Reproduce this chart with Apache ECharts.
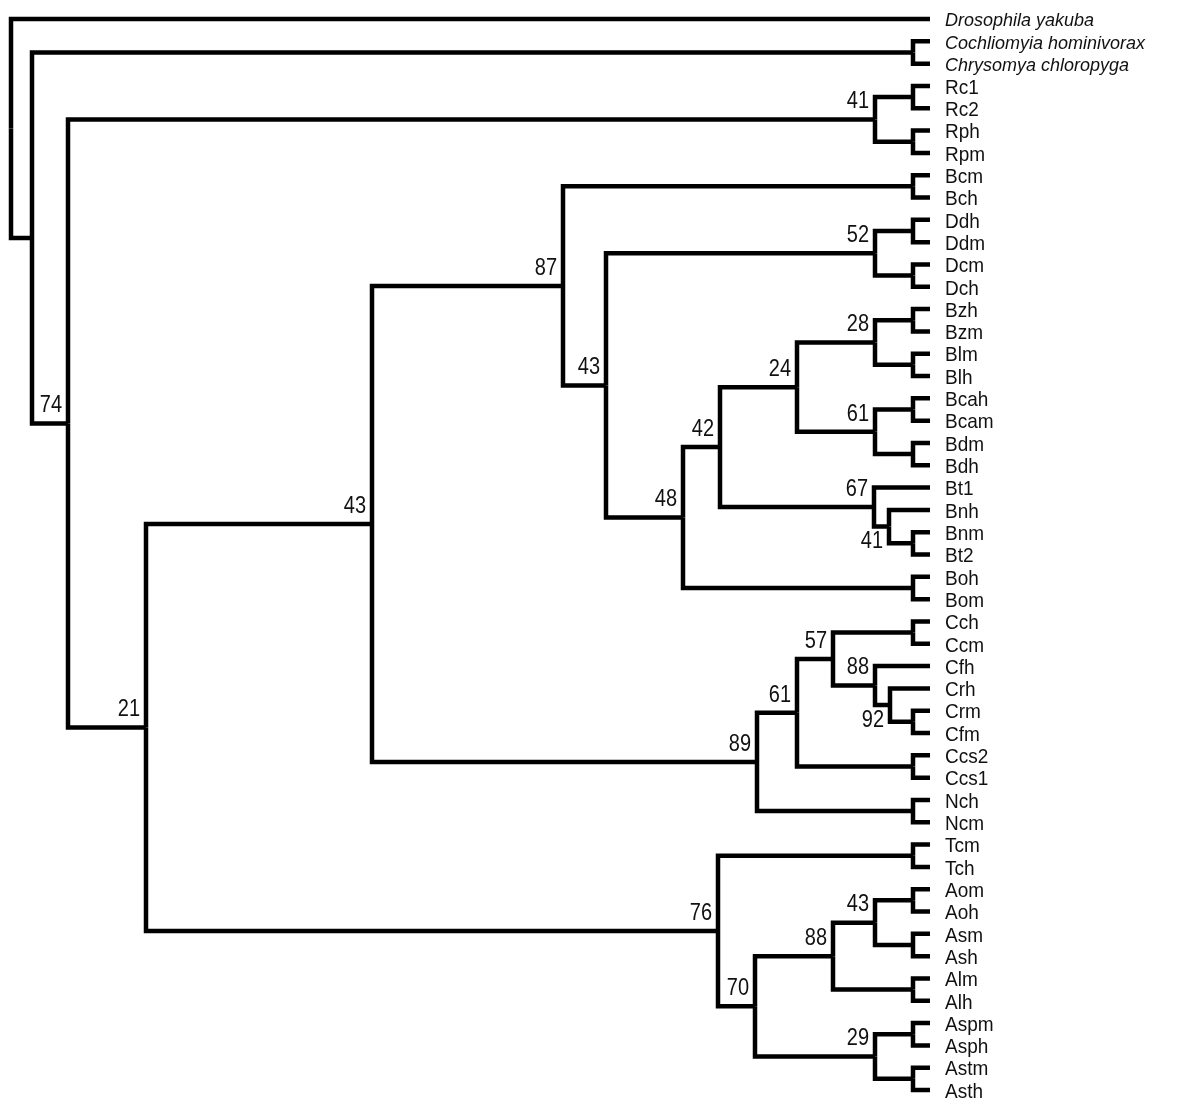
<!DOCTYPE html>
<html lang="en">
<head>
<meta charset="UTF-8">
<title>Tree</title>
<style>html,body{margin:0;padding:0;background:#fff;}</style>
</head>
<body>
<div id="main" style="width:1178px;height:1103px;"></div>
<script src="https://cdn.jsdelivr.net/npm/echarts@6/dist/echarts.min.js"></script>
<script>
// leaves, top to bottom
var leafNames = [
    'Drosophila yakuba', 'Cochliomyia hominivorax', 'Chrysomya chloropyga',
    'Rc1', 'Rc2', 'Rph', 'Rpm', 'Bcm', 'Bch', 'Ddh', 'Ddm', 'Dcm', 'Dch',
    'Bzh', 'Bzm', 'Blm', 'Blh', 'Bcah', 'Bcam', 'Bdm', 'Bdh',
    'Bt1', 'Bnh', 'Bnm', 'Bt2', 'Boh', 'Bom',
    'Cch', 'Ccm', 'Cfh', 'Crh', 'Crm', 'Cfm', 'Ccs2', 'Ccs1', 'Nch', 'Ncm',
    'Tcm', 'Tch', 'Aom', 'Aoh', 'Asm', 'Ash', 'Alm', 'Alh',
    'Aspm', 'Asph', 'Astm', 'Asth'
];
var italicNames = ['Drosophila yakuba', 'Cochliomyia hominivorax', 'Chrysomya chloropyga'];
var tipDepth = 930;

// clade id, depth, children, bootstrap value
var clades = [
    ['pCC', 913, ['Cochliomyia hominivorax', 'Chrysomya chloropyga'], ''],
    ['pRc', 913, ['Rc1', 'Rc2'], ''],
    ['pRp', 913, ['Rph', 'Rpm'], ''],
    ['pBc', 913, ['Bcm', 'Bch'], ''],
    ['pDd', 913, ['Ddh', 'Ddm'], ''],
    ['pDc', 913, ['Dcm', 'Dch'], ''],
    ['pBz', 913, ['Bzh', 'Bzm'], ''],
    ['pBl', 913, ['Blm', 'Blh'], ''],
    ['pBca', 913, ['Bcah', 'Bcam'], ''],
    ['pBd', 913, ['Bdm', 'Bdh'], ''],
    ['pBn', 913, ['Bnm', 'Bt2'], ''],
    ['pBo', 913, ['Boh', 'Bom'], ''],
    ['pCc', 913, ['Cch', 'Ccm'], ''],
    ['pCr', 913, ['Crm', 'Cfm'], ''],
    ['pCcs', 913, ['Ccs2', 'Ccs1'], ''],
    ['pN', 913, ['Nch', 'Ncm'], ''],
    ['pT', 913, ['Tcm', 'Tch'], ''],
    ['pAo', 913, ['Aom', 'Aoh'], ''],
    ['pAs', 913, ['Asm', 'Ash'], ''],
    ['pAl', 913, ['Alm', 'Alh'], ''],
    ['pAsp', 913, ['Aspm', 'Asph'], ''],
    ['pAst', 913, ['Astm', 'Asth'], ''],
    ['R', 875, ['pRc', 'pRp'], '41'],
    ['Dd', 875, ['pDd', 'pDc'], '52'],
    ['Bzl', 875, ['pBz', 'pBl'], '28'],
    ['Bcd', 875, ['pBca', 'pBd'], '61'],
    ['K', 797, ['Bzl', 'Bcd'], '24'],
    ['Bn', 889, ['Bnh', 'pBn'], '41'],
    ['Bt', 874, ['Bt1', 'Bn'], '67'],
    ['J', 720, ['K', 'Bt'], '42'],
    ['I', 683, ['J', 'pBo'], '48'],
    ['H', 606, ['Dd', 'I'], '43'],
    ['F', 563, ['pBc', 'H'], '87'],
    ['Cr', 890, ['Crh', 'pCr'], '92'],
    ['Cf', 875, ['Cfh', 'Cr'], '88'],
    ['Cc', 833, ['pCc', 'Cf'], '57'],
    ['Q', 797, ['Cc', 'pCcs'], '61'],
    ['G', 757, ['Q', 'pN'], '89'],
    ['D', 372, ['F', 'G'], '43'],
    ['Ao', 875, ['pAo', 'pAs'], '43'],
    ['Al', 833, ['Ao', 'pAl'], '88'],
    ['Asp', 875, ['pAsp', 'pAst'], '29'],
    ['U', 755, ['Al', 'Asp'], '70'],
    ['E', 718, ['pT', 'U'], '76'],
    ['C', 146, ['D', 'E'], '21'],
    ['B', 68, ['R', 'C'], '74'],
    ['A', 32, ['pCC', 'B'], ''],
    ['root', 11, ['Drosophila yakuba', 'A'], '']
];

// layout: leaves on rows, clades at the middle of their outer children
var nodeX = {}, nodeY = {}, kids = {};
leafNames.forEach(function (n, i) { nodeX[n] = tipDepth; nodeY[n] = i; });
clades.forEach(function (c) { nodeX[c[0]] = c[1]; kids[c[0]] = c[2]; });
function placeY(id) {
    if (nodeY[id] !== undefined) return nodeY[id];
    var k = kids[id];
    nodeY[id] = (placeY(k[0]) + placeY(k[k.length - 1])) / 2;
    return nodeY[id];
}
clades.forEach(function (c) { placeY(c[0]); });

var edges = [];
clades.forEach(function (c) {
    c[2].forEach(function (child) {
        edges.push([c[1], nodeY[c[0]], nodeX[child], nodeY[child]]);
    });
});

var labelsBelow = ['Bn', 'Cr'];
var supportData = clades.filter(function (c) { return c[3] !== ''; }).map(function (c) {
    return [c[1], nodeY[c[0]], c[3], labelsBelow.indexOf(c[0]) >= 0 ? 1 : 0];
});
var leafData = leafNames.map(function (n, i) {
    return [tipDepth, i, n, italicNames.indexOf(n) >= 0 ? 1 : 0];
});

var fontFam = '"Liberation Sans", Arial, sans-serif';
var myChart = echarts.init(document.getElementById('main'));

var option = {
    animation: false,
    backgroundColor: '#fff',
    grid: { left: 0, right: 0, top: 19, bottom: 13 },
    xAxis: { type: 'value', min: 0, max: 1178, show: false },
    yAxis: { type: 'value', min: 0, max: 48, inverse: true, show: false },
    series: [
        {
            // branches
            type: 'custom',
            data: edges,
            encode: { x: [0, 2], y: [1, 3] },
            renderItem: function (params, api) {
                var p = api.coord([api.value(0), api.value(1)]);
                var c = api.coord([api.value(2), api.value(3)]);
                return {
                    type: 'polyline',
                    shape: { points: [p, [p[0], c[1]], c] },
                    style: { stroke: '#000', fill: null, lineWidth: 4.5, lineJoin: 'miter' }
                };
            }
        },
        {
            // bootstrap values
            type: 'custom',
            data: supportData,
            encode: { x: 0, y: 1 },
            renderItem: function (params, api) {
                var p = api.coord([api.value(0), api.value(1)]);
                var below = api.value(3) === 1;
                return {
                    type: 'text',
                    x: p[0] - 6,
                    y: below ? p[1] + 4 : p[1] - 6,
                    scaleY: 1.15,
                    style: {
                        text: supportData[params.dataIndex][2],
                        fill: '#111',
                        fontFamily: fontFam,
                        fontSize: 20,
                        align: 'right',
                        verticalAlign: below ? 'top' : 'bottom'
                    }
                };
            }
        },
        {
            // leaf names
            type: 'custom',
            data: leafData,
            encode: { x: 0, y: 1 },
            renderItem: function (params, api) {
                var p = api.coord([api.value(0), api.value(1)]);
                var it = api.value(3) === 1;
                return {
                    type: 'text',
                    x: p[0] + 15,
                    y: p[1] + 2,
                    scaleY: it ? 1.05 : 1.1,
                    style: {
                        text: leafData[params.dataIndex][2],
                        fill: '#111',
                        fontFamily: fontFam,
                        fontSize: it ? 18 : 19,
                        fontStyle: it ? 'italic' : 'normal',
                        align: 'left',
                        verticalAlign: 'middle'
                    }
                };
            }
        }
    ]
};

myChart.setOption(option);
</script>
</body>
</html>
